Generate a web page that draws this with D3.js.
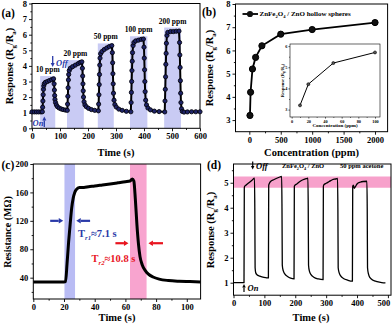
<!DOCTYPE html>
<html>
<head>
<meta charset="utf-8">
<script src="https://cdn.jsdelivr.net/npm/d3@7"></script>
<style>
  html, body { margin: 0; padding: 0; background: #fff; }
  svg { display: block; font-family: "Liberation Serif", "Times New Roman", serif; font-weight: bold; }
</style>
</head>
<body>
<div id="chart"></div>
<script>
// (a) dynamic response, time (s) vs Rg/Ra
const seriesA = [
  [0,1.05],[8,1.05],[16,1.05],[24,1.05],[32,1.05],[37,1.06],
  [38,1.35],[39,1.75],[40,2.15],[41,2.5],[42,2.72],[44,2.86],[48,2.95],[55,3.0],[62,3.06],[70,3.12],[77,3.17],
  [79,2.85],[80,2.45],[81,2.1],[82,1.85],[84,1.65],[87,1.5],[91,1.38],[97,1.3],[104,1.24],[111,1.2],[119,1.17],[126,1.15],
  [127,1.55],[128,2.05],[129,2.6],[130,3.1],[131,3.45],[133,3.7],[137,3.85],[145,3.95],[155,4.05],[165,4.15],[172,4.22],[178,4.26],
  [180,3.85],[181,3.35],[182,2.85],[183,2.4],[184,2.0],[186,1.7],[189,1.5],[194,1.38],[202,1.28],[212,1.2],[224,1.15],[237,1.12],
  [238,1.55],[239,2.15],[240,2.8],[241,3.45],[242,4.05],[243,4.5],[245,4.78],[250,4.92],[258,5.05],[267,5.15],[276,5.24],[285,5.3],
  [287,4.85],[288,4.2],[289,3.5],[290,2.85],[291,2.25],[293,1.8],[296,1.52],[301,1.36],[310,1.23],[322,1.15],[337,1.09],[353,1.06],
  [354,1.65],[355,2.3],[356,3.0],[357,3.7],[358,4.3],[359,4.85],[361,5.3],[364,5.5],[370,5.6],[380,5.65],[390,5.7],[398,5.72],
  [400,5.2],[401,4.5],[402,3.75],[403,3.0],[404,2.35],[406,1.8],[409,1.5],[414,1.3],[423,1.18],[437,1.1],[454,1.07],[474,1.05],
  [475,1.75],[476,2.5],[477,3.3],[478,4.1],[479,4.8],[480,5.45],[482,5.95],[485,6.15],[495,6.2],[505,6.2],[515,6.22],[525,6.23],
  [527,5.5],[528,4.7],[529,3.9],[530,3.05],[531,2.25],[532,1.65],[534,1.25],[537,1.08],[543,1.04],[555,1.05],[570,1.06],[585,1.06],[600,1.06]
];
// gas-on windows: start, end, top of shading
const bandsA = [[29,83,3.35],[125,185,4.37],[235,292,5.44],[350,412,5.9],[472,532,6.46]];
const ppmLabels = ["10 ppm", "20 ppm", "50 ppm", "100 ppm", "200 ppm"];

// (b) response vs concentration
const concB = [10, 20, 50, 100, 200, 500, 1000, 2000];
const respB = [3.2, 4.2, 5.2, 5.7, 6.2, 6.7, 6.9, 7.2];

// (c) resistance transient
const seriesC = [
  [0,34],[5,34],[10,34],[15,34],[20,34],[21,34.5],[22,60],[23,90],[24,115],[25,138],[26,152],[27,160],[28,164],
  [30,167],[33,167],[36,168],[40,169],[45,170.5],[50,172],[55,173.5],[60,175],[63,176],[64.5,179],[65.5,176],
  [66.5,150],[67.5,115],[68.5,88],[69.5,70],[71,58],[73,50],[75,45],[78,41],[82,38],[88,36],[95,35],[102,34.5],[109,34]
];
const bandsC = [[20.3,27.2,"#b9bcf4"],[63,73.8,"#f8a4cf"]];

// (d) repeatability, 50 ppm acetone
const seriesD = [
  [0,1.0],[34,1.0],[35,4.8],[36,4.85],[40,4.9],[50,5.0],[60,5.1],[68,5.18],[69,4.0],[70,1.6],[72,1.4],[76,1.32],[85,1.26],[95,1.22],[105,1.2],[113,1.19],
  [114,4.9],[116,4.97],[120,5.05],[130,5.12],[140,5.18],[150,5.23],[156,5.25],[157,4.0],[158,1.7],[161,1.48],[166,1.35],[175,1.25],[185,1.18],[196,1.15],
  [197,4.85],[199,4.9],[205,4.95],[215,5.05],[225,5.12],[235,5.16],[241,5.18],[242,4.0],[243,1.7],[246,1.45],[251,1.32],[260,1.22],[275,1.15],[290,1.12],
  [291,4.85],[293,4.92],[300,4.98],[310,5.05],[320,5.12],[330,5.15],[337,5.17],[338,4.0],[339,1.6],[342,1.4],[347,1.27],[356,1.17],[370,1.1],[385,1.06],
  [386,4.85],[388,4.9],[391,4.78],[395,4.85],[400,4.95],[410,5.02],[420,5.05],[432,5.06],[433,4.0],[434,1.6],[437,1.35],[442,1.2],[452,1.1],[465,1.04],[480,1.0],[492,0.99]
];
const bandD = [4.8, 5.25];

const W = 392, H = 328;
const blue = "#2a3aa8", red = "#e8141e";

const svg = d3.select("#chart")
  .append("svg")
  .attr("width", W)
  .attr("height", H);

function axes(g, x, y, o) {
  const [x0, x1] = x.range();
  const [y0, y1] = y.range();
  const style = s => s
    .attr("font-family", "Liberation Serif, serif")
    .attr("font-size", o.font)
    .attr("font-weight", "bold")
    .call(s => s.select(".domain").remove())
    .call(s => s.selectAll("text").attr("fill", "#000"))
    .call(s => s.selectAll("line").attr("stroke-width", o.sw || 0.9));

  g.append("g").attr("class", "xmajor").attr("transform", `translate(0,${y0})`)
    .call(d3.axisBottom(x).tickValues(o.xMajor).tickSize(o.tick).tickPadding(o.pad).tickFormat(d3.format("d")))
    .call(style);
  g.append("g").attr("transform", `translate(0,${y0})`)
    .call(d3.axisBottom(x).tickValues(o.xMinor).tickSize(o.tick * 0.55).tickFormat(""))
    .call(style);
  g.append("g").attr("transform", `translate(${x0},0)`)
    .call(d3.axisLeft(y).tickValues(o.yMajor).tickSize(o.tick).tickPadding(o.pad).tickFormat(d3.format("d")))
    .call(style);
  g.append("g").attr("transform", `translate(${x0},0)`)
    .call(d3.axisLeft(y).tickValues(o.yMinor).tickSize(o.tick * 0.55).tickFormat(""))
    .call(style);

  g.append("rect")
    .attr("x", x0).attr("y", y1)
    .attr("width", x1 - x0).attr("height", y0 - y1)
    .attr("fill", "none")
    .attr("stroke", "#000")
    .attr("stroke-width", o.sw || 1);
}

// text with subscripts: parts = [[string, isSub, isItalic], ...]
function richText(g, parts, size) {
  const t = g.append("text")
    .attr("font-size", size)
    .attr("font-weight", "bold");
  let down = false;
  parts.forEach(([s, sub, italic]) => {
    const ts = t.append("tspan").text(s);
    if (sub && !down) { ts.attr("dy", size * 0.3); down = true; }
    else if (!sub && down) { ts.attr("dy", -size * 0.3); down = false; }
    if (sub) ts.attr("font-size", size * 0.65);
    if (italic) ts.attr("font-style", "italic");
  });
  return t;
}

function yTitle(g, x, y, parts, size) {
  richText(g, parts, size)
    .attr("text-anchor", "middle")
    .attr("transform", `translate(${x},${y}) rotate(-90)`);
}

function plainText(g, x, y, s, size, anchor) {
  return g.append("text")
    .attr("x", x).attr("y", y)
    .attr("font-size", size)
    .attr("font-weight", "bold")
    .attr("text-anchor", anchor || "start")
    .text(s);
}

function arrow(g, x1, y1, x2, y2, color, sw, hl, hw) {
  const a = Math.atan2(y2 - y1, x2 - x1);
  const bx = x2 - hl * Math.cos(a), by = y2 - hl * Math.sin(a);
  g.append("line")
    .attr("x1", x1).attr("y1", y1).attr("x2", bx).attr("y2", by)
    .attr("stroke", color).attr("stroke-width", sw);
  const px = -Math.sin(a) * hw / 2, py = Math.cos(a) * hw / 2;
  g.append("path")
    .attr("d", `M${x2},${y2}L${bx + px},${by + py}L${bx - px},${by - py}Z`)
    .attr("fill", color);
}

const respParts = [["Response (R"], ["g", true], ["/R"], ["a", true], [")"]];

// ---------- (a) ----------
const gA = svg.append("g");
const xA = d3.scaleLinear().domain([0, 600]).range([32, 200]);
const yA = d3.scaleLinear().domain([0, 8]).range([128.3, 3.5]);

gA.selectAll("rect.band")
  .data(bandsA)
  .join("rect")
  .attr("class", "band")
  .attr("x", d => xA(d[0]))
  .attr("width", d => xA(d[1]) - xA(d[0]))
  .attr("y", d => yA(d[2]))
  .attr("height", d => yA(0) - yA(d[2]))
  .attr("fill", "#c9cbf4");

axes(gA, xA, yA, {
  xMajor: d3.range(0, 601, 100), xMinor: d3.range(50, 600, 100),
  yMajor: d3.range(0, 9, 1), yMinor: d3.range(0.5, 8, 1),
  tick: 3, pad: 2, font: 8.5
});

gA.append("path")
  .datum(seriesA)
  .attr("fill", "none")
  .attr("stroke", "#000")
  .attr("stroke-width", 2)
  .attr("d", d3.line().x(d => xA(d[0])).y(d => yA(d[1])));

gA.selectAll("circle")
  .data(seriesA)
  .join("circle")
  .attr("cx", d => xA(d[0]))
  .attr("cy", d => yA(d[1]))
  .attr("r", 2.1)
  .attr("fill", "#1f2468")
  .attr("stroke", "#05050f")
  .attr("stroke-width", 0.9);

gA.selectAll("text.ppm")
  .data(bandsA)
  .join("text")
  .attr("class", "ppm")
  .attr("x", d => xA((d[0] + d[1]) / 2))
  .attr("y", d => yA(d[2]) - 4)
  .attr("text-anchor", "middle")
  .attr("font-size", 7.5)
  .attr("font-weight", "bold")
  .text((d, i) => ppmLabels[i]);

arrow(gA, 52.7, 56, 52.7, 67, blue, 1.3, 4, 4);
plainText(gA, 56, 66, "Off", 8.5).attr("fill", blue).attr("font-style", "italic");
plainText(gA, 32.5, 125.5, "On", 8.5).attr("fill", blue).attr("font-style", "italic");
arrow(gA, 44.3, 127, 44.3, 116.5, blue, 1.3, 4, 4);

yTitle(gA, 13, 66, respParts, 10.5);
plainText(gA, 116, 155.5, "Time (s)", 10.5, "middle");
plainText(gA, 1.5, 16.5, "(a)", 11.5);

// ---------- (b) ----------
const gB = svg.append("g");
const xB = d3.scaleLinear().domain([-220, 2200]).range([235.5, 387.6]);
const yB = d3.scaleLinear().domain([2.5, 8]).range([131.7, 4]);

axes(gB, xB, yB, {
  xMajor: d3.range(0, 2001, 500), xMinor: d3.range(250, 2200, 500),
  yMajor: d3.range(3, 9, 1), yMinor: d3.range(3.5, 8, 1),
  tick: 3, pad: 2, font: 8.5
});

const ptsB = concB.map((c, i) => [c, respB[i]]);
gB.append("path")
  .datum(ptsB)
  .attr("fill", "none")
  .attr("stroke", "#000")
  .attr("stroke-width", 1.8)
  .attr("d", d3.line().x(d => xB(d[0])).y(d => yB(d[1])));
gB.selectAll("circle.main")
  .data(ptsB)
  .join("circle")
  .attr("class", "main")
  .attr("cx", d => xB(d[0]))
  .attr("cy", d => yB(d[1]))
  .attr("r", 3.1)
  .attr("fill", "#111")
  .attr("stroke", "#000");

// legend
gB.append("line").attr("x1", 242.5).attr("x2", 258).attr("y1", 14).attr("y2", 14)
  .attr("stroke", "#000").attr("stroke-width", 1.8);
gB.append("circle").attr("cx", 250).attr("cy", 14).attr("r", 3.1).attr("fill", "#111");
richText(gB, [["ZnFe"], ["2", true], ["O"], ["4", true], [" / ZnO hollow spheres"]], 7)
  .attr("x", 259.5).attr("y", 16.3);

// inset
const xI = d3.scaleLinear().domain([-2, 106]).range([290, 380]);
const yI = d3.scaleLinear().domain([2.65, 6.1]).range([117, 44]);
const gI = gB.append("g");
gI.append("rect").attr("x", 290).attr("y", 44).attr("width", 90).attr("height", 73).attr("fill", "#fff");
axes(gI, xI, yI, {
  xMajor: d3.range(0, 101, 20), xMinor: d3.range(10, 101, 20),
  yMajor: d3.range(3, 7, 1), yMinor: d3.range(3.5, 6, 1),
  tick: 1.6, pad: 1, font: 4.3, sw: 0.6
});
const ptsI = ptsB.filter(d => d[0] <= 100);
gI.append("path")
  .datum(ptsI)
  .attr("fill", "none")
  .attr("stroke", "#000")
  .attr("stroke-width", 1)
  .attr("d", d3.line().x(d => xI(d[0])).y(d => yI(d[1])));
gI.selectAll("circle")
  .data(ptsI)
  .join("circle")
  .attr("cx", d => xI(d[0]))
  .attr("cy", d => yI(d[1]))
  .attr("r", 1.5)
  .attr("fill", "#555")
  .attr("stroke", "#000")
  .attr("stroke-width", 0.6);
yTitle(gI, 284, 80.5, respParts, 4.6);
plainText(gI, 335, 127, "Concentration (ppm)", 5, "middle");

yTitle(gB, 213, 68, respParts, 10.5);
plainText(gB, 311.5, 155.5, "Concentration (ppm)", 10.5, "middle");
plainText(gB, 202, 15.5, "(b)", 11.5);

// ---------- (c) ----------
const gC = svg.append("g");
const xC = d3.scaleLinear().domain([0, 109]).range([33.3, 200.6]);
const yC = d3.scaleLinear().domain([10, 200]).range([299, 164]);

gC.selectAll("rect.band")
  .data(bandsC)
  .join("rect")
  .attr("class", "band")
  .attr("x", d => xC(d[0]))
  .attr("width", d => xC(d[1]) - xC(d[0]))
  .attr("y", yC(200))
  .attr("height", yC(10) - yC(200))
  .attr("fill", d => d[2]);

axes(gC, xC, yC, {
  xMajor: d3.range(0, 101, 20), xMinor: d3.range(10, 109, 20),
  yMajor: d3.range(40, 201, 40), yMinor: d3.range(20, 200, 40),
  tick: 3, pad: 2, font: 8.5
});

gC.append("path")
  .datum(seriesC)
  .attr("fill", "none")
  .attr("stroke", "#000")
  .attr("stroke-width", 3)
  .attr("stroke-linejoin", "round")
  .attr("d", d3.line().curve(d3.curveMonotoneX).x(d => xC(d[0])).y(d => yC(d[1])));

arrow(gC, xC(11), yC(120), xC(19.5), yC(120), blue, 2.2, 4.5, 5.5);
arrow(gC, xC(37), yC(120), xC(28), yC(120), blue, 2.2, 4.5, 5.5);
arrow(gC, xC(53.5), yC(88.5), xC(62), yC(88.5), red, 2.2, 4.5, 5.5);
arrow(gC, xC(84.5), yC(88.5), xC(75), yC(88.5), red, 2.2, 4.5, 5.5);

richText(gC, [["T"], ["r1", true, true], ["≈7.1 s"]], 10.5)
  .attr("x", 78).attr("y", 236.5).attr("fill", blue);
richText(gC, [["T"], ["r2", true, true], ["≈10.8 s"]], 10.5)
  .attr("x", 91.5).attr("y", 262).attr("fill", red);

yTitle(gC, 11, 232, [["Resistance (MΩ)"]], 10);
plainText(gC, 117, 321, "Time (s)", 10.5, "middle");
plainText(gC, 1.5, 168.5, "(c)", 11.5);

// ---------- (d) ----------
const gD = svg.append("g");
const xD = d3.scaleLinear().domain([0, 510]).range([233.5, 391]);
const yD = d3.scaleLinear().domain([0.5, 5.75]).range([295.2, 164]);

gD.append("rect")
  .attr("x", xD(0))
  .attr("width", xD(510) - xD(0))
  .attr("y", yD(bandD[1]))
  .attr("height", yD(bandD[0]) - yD(bandD[1]))
  .attr("fill", "#f7a1cb");

axes(gD, xD, yD, {
  xMajor: d3.range(0, 501, 100), xMinor: d3.range(50, 510, 100),
  yMajor: d3.range(1, 6, 1), yMinor: d3.range(1.5, 5.6, 1),
  tick: 3, pad: 2, font: 8.5
});
// last tick label sits at the picture edge: nudge it inside
gD.select(".xmajor").selectAll(".tick text")
  .filter(d => d === 500)
  .attr("dx", -4.5);

gD.append("path")
  .datum(seriesD)
  .attr("fill", "none")
  .attr("stroke", "#000")
  .attr("stroke-width", 1.3)
  .attr("stroke-linejoin", "round")
  .attr("d", d3.line().curve(d3.curveMonotoneX).x(d => xD(d[0])).y(d => yD(d[1])));

arrow(gD, 252.7, 161.5, 252.7, 169.5, "#000", 1.2, 3.5, 3.5);
plainText(gD, 256, 168.5, "Off", 8.5).attr("font-style", "italic");
arrow(gD, 244, 292, 244, 284, "#000", 1.2, 3.5, 3.5);
plainText(gD, 247.5, 291, "On", 8.5).attr("font-style", "italic");

richText(gD, [["ZnFe"], ["2", true], ["O"], ["4", true], [" / ZnO"]], 6.5)
  .attr("x", 282).attr("y", 168);
plainText(gD, 340, 168, "50 ppm acetone", 6.5);

yTitle(gD, 214, 230, respParts, 10.5);
plainText(gD, 311, 321, "Time (s)", 10.5, "middle");
plainText(gD, 207, 169, "(d)", 11.5);
</script>
</body>
</html>
